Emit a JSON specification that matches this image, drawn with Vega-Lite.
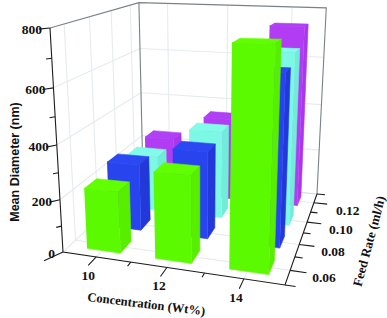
{"$schema":"https://vega.github.io/schema/vega-lite/v6.json","width":387,"height":318,"padding":0,"autosize":{"type":"fit","contains":"padding"},"background":"white",
"config":{"view":{"stroke":null}},
"datasets":{
"bars":[
{"conc":10,"rate":0.12,"diameter":243},{"conc":12,"rate":0.12,"diameter":349},{"conc":14,"rate":0.12,"diameter":738},
{"conc":10,"rate":0.10,"diameter":228},{"conc":12,"rate":0.10,"diameter":352},{"conc":14,"rate":0.10,"diameter":668},
{"conc":10,"rate":0.08,"diameter":262},{"conc":12,"rate":0.08,"diameter":335},{"conc":14,"rate":0.08,"diameter":630},
{"conc":10,"rate":0.06,"diameter":231},{"conc":12,"rate":0.06,"diameter":316},{"conc":14,"rate":0.06,"diameter":755}],
"frame":[
{"k":"b200","t":"grid","o":0,"c":9,"r":0.13,"d":200},{"k":"b200","t":"grid","o":1,"c":15,"r":0.13,"d":200},
{"k":"b400","t":"grid","o":0,"c":9,"r":0.13,"d":400},{"k":"b400","t":"grid","o":1,"c":15,"r":0.13,"d":400},
{"k":"b600","t":"grid","o":0,"c":9,"r":0.13,"d":600},{"k":"b600","t":"grid","o":1,"c":15,"r":0.13,"d":600},
{"k":"l200","t":"grid","o":0,"c":9,"r":0.05,"d":200},{"k":"l200","t":"grid","o":1,"c":9,"r":0.13,"d":200},
{"k":"l400","t":"grid","o":0,"c":9,"r":0.05,"d":400},{"k":"l400","t":"grid","o":1,"c":9,"r":0.13,"d":400},
{"k":"l600","t":"grid","o":0,"c":9,"r":0.05,"d":600},{"k":"l600","t":"grid","o":1,"c":9,"r":0.13,"d":600},
{"k":"bv10","t":"grid","o":0,"c":10,"r":0.13,"d":0},{"k":"bv10","t":"grid","o":1,"c":10,"r":0.13,"d":800},
{"k":"bv12","t":"grid","o":0,"c":12,"r":0.13,"d":0},{"k":"bv12","t":"grid","o":1,"c":12,"r":0.13,"d":800},
{"k":"bv14","t":"grid","o":0,"c":14,"r":0.13,"d":0},{"k":"bv14","t":"grid","o":1,"c":14,"r":0.13,"d":800},
{"k":"lv06","t":"grid","o":0,"c":9,"r":0.06,"d":0},{"k":"lv06","t":"grid","o":1,"c":9,"r":0.06,"d":800},
{"k":"lv08","t":"grid","o":0,"c":9,"r":0.08,"d":0},{"k":"lv08","t":"grid","o":1,"c":9,"r":0.08,"d":800},
{"k":"lv10","t":"grid","o":0,"c":9,"r":0.10,"d":0},{"k":"lv10","t":"grid","o":1,"c":9,"r":0.10,"d":800},
{"k":"lv12","t":"grid","o":0,"c":9,"r":0.12,"d":0},{"k":"lv12","t":"grid","o":1,"c":9,"r":0.12,"d":800},
{"k":"f10","t":"grid","o":0,"c":10,"r":0.05,"d":0},{"k":"f10","t":"grid","o":1,"c":10,"r":0.13,"d":0},
{"k":"f12","t":"grid","o":0,"c":12,"r":0.05,"d":0},{"k":"f12","t":"grid","o":1,"c":12,"r":0.13,"d":0},
{"k":"f14","t":"grid","o":0,"c":14,"r":0.05,"d":0},{"k":"f14","t":"grid","o":1,"c":14,"r":0.13,"d":0},
{"k":"g06","t":"grid","o":0,"c":9,"r":0.06,"d":0},{"k":"g06","t":"grid","o":1,"c":15,"r":0.06,"d":0},
{"k":"g08","t":"grid","o":0,"c":9,"r":0.08,"d":0},{"k":"g08","t":"grid","o":1,"c":15,"r":0.08,"d":0},
{"k":"g10","t":"grid","o":0,"c":9,"r":0.10,"d":0},{"k":"g10","t":"grid","o":1,"c":15,"r":0.10,"d":0},
{"k":"g12","t":"grid","o":0,"c":9,"r":0.12,"d":0},{"k":"g12","t":"grid","o":1,"c":15,"r":0.12,"d":0},
{"k":"fl","t":"grid","o":0,"c":9,"r":0.05,"d":0},{"k":"fl","t":"grid","o":1,"c":9,"r":0.13,"d":0},
{"k":"fb","t":"edge2","o":0,"c":9,"r":0.13,"d":0},{"k":"fb","t":"edge2","o":1,"c":15,"r":0.13,"d":0},
{"k":"wt","t":"edge","o":0,"c":9,"r":0.05,"d":800},{"k":"wt","t":"edge","o":1,"c":9,"r":0.13,"d":800},{"k":"wt","t":"edge","o":2,"c":15,"r":0.13,"d":800},{"k":"wt","t":"edge","o":3,"c":15,"r":0.13,"d":0},
{"k":"wl","t":"edge","o":0,"c":9,"r":0.13,"d":0},{"k":"wl","t":"edge","o":1,"c":9,"r":0.13,"d":800},
{"k":"ax","t":"axis","o":0,"c":9,"r":0.05,"d":800},{"k":"ax","t":"axis","o":1,"c":9,"r":0.05,"d":0},{"k":"ax","t":"axis","o":2,"c":15,"r":0.05,"d":0},{"k":"ax","t":"axis","o":3,"c":15,"r":0.13,"d":0},
{"k":"z0","t":"axis","o":0,"c":9,"r":0.05,"d":0},{"k":"z0","t":"axis","o":1,"c":8.75,"r":0.042,"d":0},
{"k":"z100","t":"axis","o":0,"c":9,"r":0.05,"d":100},{"k":"z100","t":"axis","o":1,"c":8.9,"r":0.0485,"d":100},
{"k":"z200","t":"axis","o":0,"c":9,"r":0.05,"d":200},{"k":"z200","t":"axis","o":1,"c":8.81,"r":0.047,"d":200},
{"k":"z300","t":"axis","o":0,"c":9,"r":0.05,"d":300},{"k":"z300","t":"axis","o":1,"c":8.9,"r":0.0485,"d":300},
{"k":"z400","t":"axis","o":0,"c":9,"r":0.05,"d":400},{"k":"z400","t":"axis","o":1,"c":8.81,"r":0.047,"d":400},
{"k":"z500","t":"axis","o":0,"c":9,"r":0.05,"d":500},{"k":"z500","t":"axis","o":1,"c":8.9,"r":0.0485,"d":500},
{"k":"z600","t":"axis","o":0,"c":9,"r":0.05,"d":600},{"k":"z600","t":"axis","o":1,"c":8.81,"r":0.047,"d":600},
{"k":"z700","t":"axis","o":0,"c":9,"r":0.05,"d":700},{"k":"z700","t":"axis","o":1,"c":8.9,"r":0.0485,"d":700},
{"k":"z800","t":"axis","o":0,"c":9,"r":0.05,"d":800},{"k":"z800","t":"axis","o":1,"c":8.81,"r":0.047,"d":800},
{"k":"x10","t":"axis","o":0,"c":10,"r":0.05,"d":0},{"k":"x10","t":"axis","o":1,"c":10,"r":0.0435,"d":0},
{"k":"x11","t":"axis","o":0,"c":11,"r":0.05,"d":0},{"k":"x11","t":"axis","o":1,"c":11,"r":0.047,"d":0},
{"k":"x12","t":"axis","o":0,"c":12,"r":0.05,"d":0},{"k":"x12","t":"axis","o":1,"c":12,"r":0.0435,"d":0},
{"k":"x13","t":"axis","o":0,"c":13,"r":0.05,"d":0},{"k":"x13","t":"axis","o":1,"c":13,"r":0.047,"d":0},
{"k":"x14","t":"axis","o":0,"c":14,"r":0.05,"d":0},{"k":"x14","t":"axis","o":1,"c":14,"r":0.0435,"d":0},
{"k":"r05","t":"axis","o":0,"c":15,"r":0.05,"d":0},{"k":"r05","t":"axis","o":1,"c":15.25,"r":0.05,"d":0},
{"k":"r06","t":"axis","o":0,"c":15,"r":0.06,"d":0},{"k":"r06","t":"axis","o":1,"c":15.4,"r":0.06,"d":0},
{"k":"r07","t":"axis","o":0,"c":15,"r":0.07,"d":0},{"k":"r07","t":"axis","o":1,"c":15.2,"r":0.07,"d":0},
{"k":"r08","t":"axis","o":0,"c":15,"r":0.08,"d":0},{"k":"r08","t":"axis","o":1,"c":15.4,"r":0.08,"d":0},
{"k":"r09","t":"axis","o":0,"c":15,"r":0.09,"d":0},{"k":"r09","t":"axis","o":1,"c":15.2,"r":0.09,"d":0},
{"k":"r10","t":"axis","o":0,"c":15,"r":0.10,"d":0},{"k":"r10","t":"axis","o":1,"c":15.4,"r":0.10,"d":0},
{"k":"r11","t":"axis","o":0,"c":15,"r":0.11,"d":0},{"k":"r11","t":"axis","o":1,"c":15.2,"r":0.11,"d":0},
{"k":"r12","t":"axis","o":0,"c":15,"r":0.12,"d":0},{"k":"r12","t":"axis","o":1,"c":15.4,"r":0.12,"d":0},
{"k":"r13","t":"axis","o":0,"c":15,"r":0.13,"d":0},{"k":"r13","t":"axis","o":1,"c":15.25,"r":0.13,"d":0}
],
"zlabels":[{"label":"0","c":9,"r":0.05,"d":0},{"label":"200","c":9,"r":0.05,"d":200},{"label":"400","c":9,"r":0.05,"d":400},{"label":"600","c":9,"r":0.05,"d":600},{"label":"800","c":9,"r":0.05,"d":800}],
"xlabels":[{"label":"10","c":10,"r":0.05,"d":0},{"label":"12","c":12,"r":0.05,"d":0},{"label":"14","c":14,"r":0.05,"d":0}],
"rlabels":[{"label":"0.06","c":15,"r":0.06,"d":0},{"label":"0.08","c":15,"r":0.08,"d":0},{"label":"0.10","c":15,"r":0.10,"d":0},{"label":"0.12","c":15,"r":0.12,"d":0}],
"titles":[{"label":"Mean Diameter (nm)","c":9,"r":0.05,"d":400,"s":"z"},{"label":"Concentration (Wt%)","c":12,"r":0.05,"d":0,"s":"x"},{"label":"Feed Rate (ml/h)","c":15,"r":0.09,"d":0,"s":"r"}]
},
"encoding":{
"x":{"field":"sx","type":"quantitative","scale":{"domain":[0,387],"range":[0,387],"nice":false,"zero":false},"axis":null},
"y":{"field":"sy","type":"quantitative","scale":{"domain":[318,0],"range":[318,0],"nice":false,"zero":false},"axis":null}
},
"layer":[
{"data":{"name":"frame"},
"transform":[{"calculate":"(datum.c-9)/6","as":"X"},{"calculate":"(datum.r-0.05)/0.08","as":"Y"},{"calculate":"datum.d/800","as":"Z"},{"calculate":"1-0.12*datum.X+0.298*datum.Y-0.0867*datum.Z","as":"W"},{"calculate":"(63+187.8*datum.X+122.6*datum.Y-17.34*datum.Z)/datum.W","as":"sx"},{"calculate":"(251-1.08*datum.X-22.6*datum.Y-226.4*datum.Z)/datum.W+6*datum.X*datum.Y*datum.Z","as":"sy"}],
"mark":{"type":"line","strokeWidth":1.1,"interpolate":"linear"},
"encoding":{"detail":{"field":"k"},"order":{"field":"o"},
"color":{"field":"t","type":"nominal","legend":null,"scale":{"domain":["grid","edge2","edge","axis"],"range":["#e6ebef","#cfd8e2","#7a8288","#1c1c1c"]}}}},
{"data":{"name":"bars"},
"transform":[
{"calculate":"[{f:'top',o:0,a:-1,b:-1,z:1},{f:'top',o:1,a:1,b:-1,z:1},{f:'top',o:2,a:1,b:1,z:1},{f:'top',o:3,a:-1,b:1,z:1},{f:'right',o:0,a:1,b:-1,z:0},{f:'right',o:1,a:1,b:1,z:0},{f:'right',o:2,a:1,b:1,z:1},{f:'right',o:3,a:1,b:-1,z:1},{f:'front',o:0,a:-1,b:-1,z:0},{f:'front',o:1,a:1,b:-1,z:0},{f:'front',o:2,a:1,b:-1,z:1},{f:'front',o:3,a:-1,b:-1,z:1}]","as":"v"},
{"flatten":["v"]},
{"calculate":"(datum.conc+0.5*datum.v.a-9)/6","as":"X"},{"calculate":"(datum.rate+0.005*datum.v.b-0.05)/0.08","as":"Y"},{"calculate":"datum.v.z*datum.diameter/800","as":"Z"},
{"calculate":"1-0.12*datum.X+0.298*datum.Y-0.0867*datum.Z","as":"W"},{"calculate":"1.5+(63+187.8*datum.X+122.6*datum.Y-17.34*datum.Z)/datum.W","as":"sx"},{"calculate":"(251-1.08*datum.X-22.6*datum.Y-226.4*datum.Z)/datum.W+6*datum.X*datum.Y*datum.Z","as":"sy"},
{"calculate":"datum.conc+'|'+datum.rate+'|'+datum.v.f","as":"face"},{"calculate":"datum.rate+'|'+datum.v.f","as":"shade"},{"calculate":"datum.v.o","as":"o"}],
"mark":{"type":"line","strokeWidth":0.6,"interpolate":"linear"},
"encoding":{"detail":{"field":"face"},"order":{"field":"o"},
"fill":{"field":"shade","type":"nominal","legend":null,"scale":{"domain":["0.12|top","0.12|right","0.12|front","0.1|top","0.1|right","0.1|front","0.08|top","0.08|right","0.08|front","0.06|top","0.06|right","0.06|front"],"range":["#b040f4","#a838ea","#b23cf4","#82fbe8","#70ecd8","#7cf8e4","#2c48f2","#2238d8","#2844ee","#62ff00","#58ee00","#5cfa00"]}},
"stroke":{"field":"shade","type":"nominal","legend":null,"scale":{"domain":["0.12|top","0.12|right","0.12|front","0.1|top","0.1|right","0.1|front","0.08|top","0.08|right","0.08|front","0.06|top","0.06|right","0.06|front"],"range":["#b040f4","#a838ea","#b23cf4","#82fbe8","#70ecd8","#7cf8e4","#2c48f2","#2238d8","#2844ee","#62ff00","#58ee00","#5cfa00"]}}}},
{"data":{"name":"zlabels"},
"transform":[{"calculate":"(datum.c-9)/6","as":"X"},{"calculate":"(datum.r-0.05)/0.08","as":"Y"},{"calculate":"datum.d/800","as":"Z"},{"calculate":"1-0.12*datum.X+0.298*datum.Y-0.0867*datum.Z","as":"W"},{"calculate":"(63+187.8*datum.X+122.6*datum.Y-17.34*datum.Z)/datum.W","as":"sx"},{"calculate":"(251-1.08*datum.X-22.6*datum.Y-226.4*datum.Z)/datum.W+6*datum.X*datum.Y*datum.Z","as":"sy"}],
"mark":{"type":"text","font":"Liberation Serif","fontWeight":"bold","fontSize":13.5,"align":"right","baseline":"middle","dx":-8,"dy":2,"color":"#111"},
"encoding":{"text":{"field":"label"}}},
{"data":{"name":"xlabels"},
"transform":[{"calculate":"(datum.c-9)/6","as":"X"},{"calculate":"(datum.r-0.05)/0.08","as":"Y"},{"calculate":"datum.d/800","as":"Z"},{"calculate":"1-0.12*datum.X+0.298*datum.Y-0.0867*datum.Z","as":"W"},{"calculate":"(63+187.8*datum.X+122.6*datum.Y-17.34*datum.Z)/datum.W","as":"sx"},{"calculate":"(251-1.08*datum.X-22.6*datum.Y-226.4*datum.Z)/datum.W+6*datum.X*datum.Y*datum.Z","as":"sy"}],
"mark":{"type":"text","font":"Liberation Serif","fontWeight":"bold","fontSize":13.5,"align":"center","baseline":"middle","dx":-8,"dy":19,"color":"#111"},
"encoding":{"text":{"field":"label"}}},
{"data":{"name":"rlabels"},
"transform":[{"calculate":"(datum.c-9)/6","as":"X"},{"calculate":"(datum.r-0.05)/0.08","as":"Y"},{"calculate":"datum.d/800","as":"Z"},{"calculate":"1-0.12*datum.X+0.298*datum.Y-0.0867*datum.Z","as":"W"},{"calculate":"(63+187.8*datum.X+122.6*datum.Y-17.34*datum.Z)/datum.W","as":"sx"},{"calculate":"(251-1.08*datum.X-22.6*datum.Y-226.4*datum.Z)/datum.W+6*datum.X*datum.Y*datum.Z","as":"sy"}],
"mark":{"type":"text","font":"Liberation Serif","fontWeight":"bold","fontSize":13.5,"align":"left","baseline":"middle","dx":22,"dy":8,"color":"#111"},
"encoding":{"text":{"field":"label"}}},
{"data":{"name":"titles"},
"transform":[{"filter":"datum.s=='z'"},{"calculate":"(datum.c-9)/6","as":"X"},{"calculate":"(datum.r-0.05)/0.08","as":"Y"},{"calculate":"datum.d/800","as":"Z"},{"calculate":"1-0.12*datum.X+0.298*datum.Y-0.0867*datum.Z","as":"W"},{"calculate":"(63+187.8*datum.X+122.6*datum.Y-17.34*datum.Z)/datum.W","as":"sx"},{"calculate":"(251-1.08*datum.X-22.6*datum.Y-226.4*datum.Z)/datum.W+6*datum.X*datum.Y*datum.Z","as":"sy"}],
"mark":{"type":"text","font":"Liberation Sans","fontWeight":"bold","fontSize":12.5,"align":"center","baseline":"middle","angle":270,"dx":-17,"dy":-42,"color":"#111"},
"encoding":{"text":{"field":"label"}}},
{"data":{"name":"titles"},
"transform":[{"filter":"datum.s=='x'"},{"calculate":"(datum.c-9)/6","as":"X"},{"calculate":"(datum.r-0.05)/0.08","as":"Y"},{"calculate":"datum.d/800","as":"Z"},{"calculate":"1-0.12*datum.X+0.298*datum.Y-0.0867*datum.Z","as":"W"},{"calculate":"(63+187.8*datum.X+122.6*datum.Y-17.34*datum.Z)/datum.W","as":"sx"},{"calculate":"(251-1.08*datum.X-22.6*datum.Y-226.4*datum.Z)/datum.W+6*datum.X*datum.Y*datum.Z","as":"sy"}],
"mark":{"type":"text","font":"Liberation Serif","fontWeight":"bold","fontSize":12.6,"align":"center","baseline":"middle","angle":7,"dx":-16,"dy":39,"color":"#111"},
"encoding":{"text":{"field":"label"}}},
{"data":{"name":"titles"},
"transform":[{"filter":"datum.s=='r'"},{"calculate":"(datum.c-9)/6","as":"X"},{"calculate":"(datum.r-0.05)/0.08","as":"Y"},{"calculate":"datum.d/800","as":"Z"},{"calculate":"1-0.12*datum.X+0.298*datum.Y-0.0867*datum.Z","as":"W"},{"calculate":"(63+187.8*datum.X+122.6*datum.Y-17.34*datum.Z)/datum.W","as":"sx"},{"calculate":"(251-1.08*datum.X-22.6*datum.Y-226.4*datum.Z)/datum.W+6*datum.X*datum.Y*datum.Z","as":"sy"}],
"mark":{"type":"text","font":"Liberation Serif","fontWeight":"bold","fontSize":13,"align":"center","baseline":"middle","angle":285,"dx":9,"dy":66,"color":"#111"},
"encoding":{"text":{"field":"label"}}}
]}
